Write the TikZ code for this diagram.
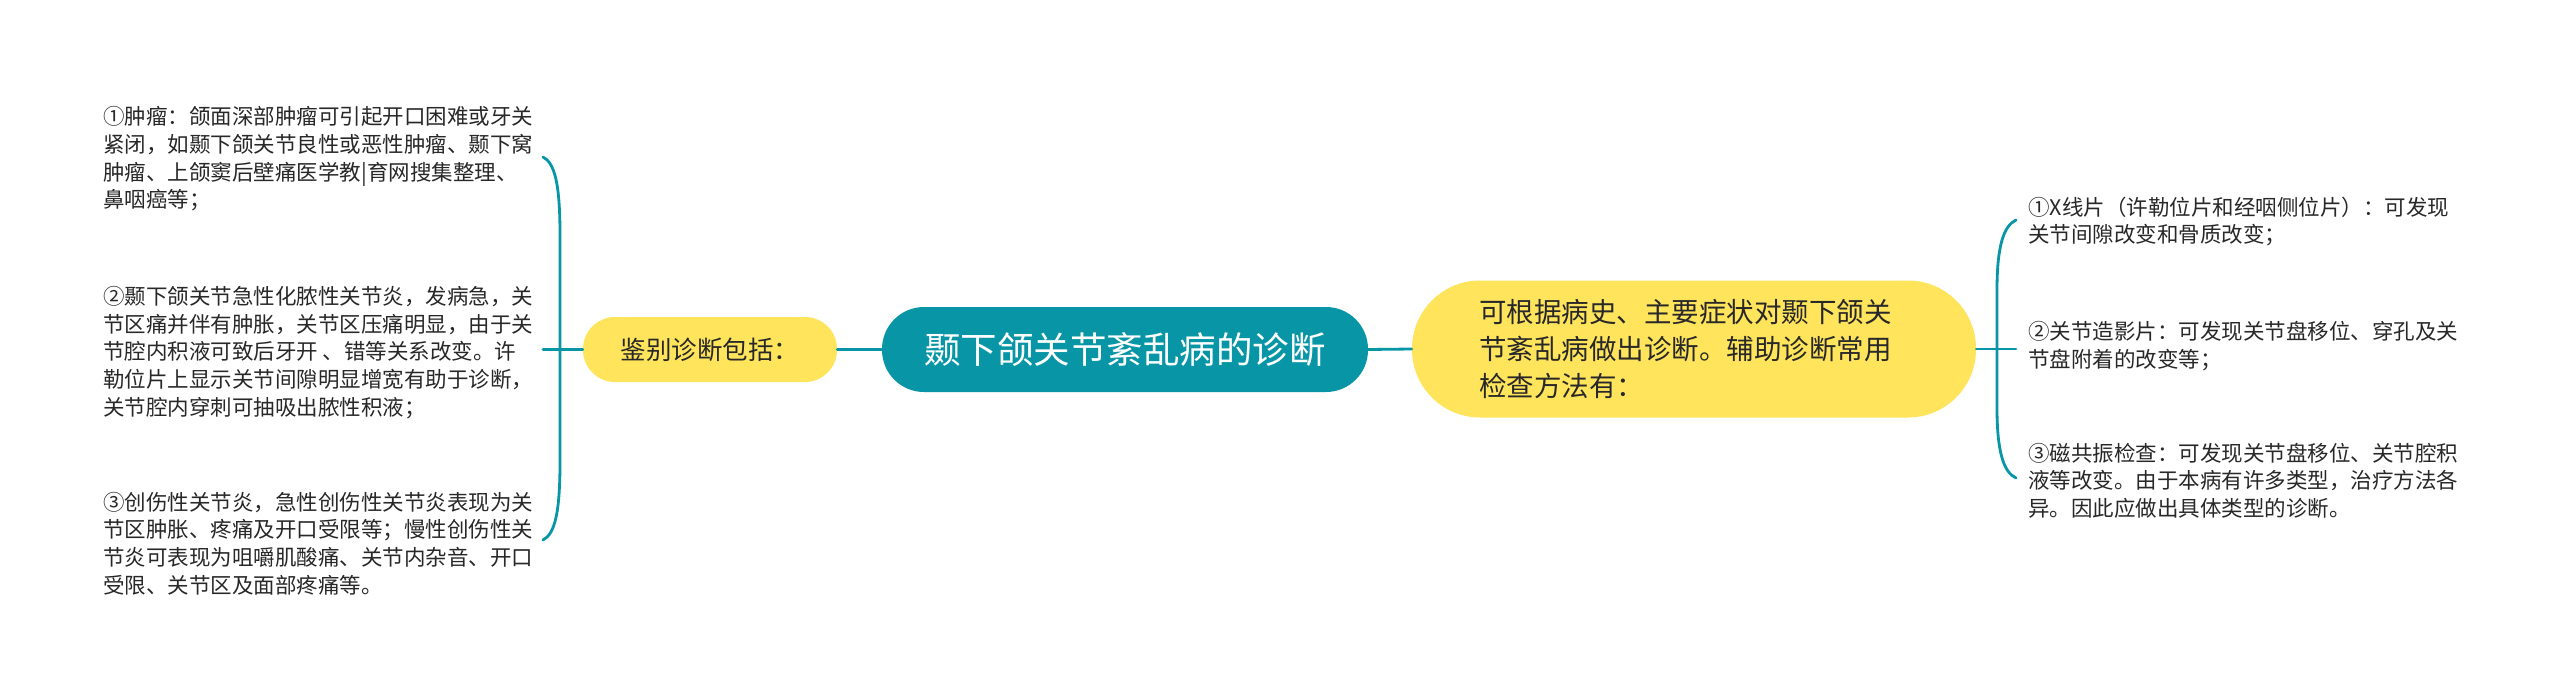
\documentclass[tikz,border=0pt]{standalone}
\usepackage{fontspec}
\setmainfont{Noto Sans CJK SC}
\usetikzlibrary{calc}
\definecolor{teal1}{RGB}{8,150,167}
\definecolor{yel}{RGB}{255,228,92}
\definecolor{txt}{RGB}{40,40,40}
\tikzset{
  conn/.style={draw=teal1, line width=2.8pt, line cap=round},
  rootbox/.style={fill=teal1, text=white, rounded corners=42pt, minimum width=486pt, minimum height=85pt, inner sep=0pt, font=\fontsize{36.5}{42}\selectfont},
  ybox/.style={fill=yel, text=txt, inner sep=0pt},
  leaf/.style={text=txt, inner sep=0pt, align=left, font=\fontsize{21.5}{27.6}\selectfont},
}
\begin{document}
\begin{tikzpicture}[x=1pt,y=-1pt]
\useasboundingbox[fill=white] (0,0) rectangle (2560,699);
% central node
\node[rootbox] (root) at (1125,349.5) {颞下颌关节紊乱病的诊断};
% left yellow
\node[ybox, rounded corners=32pt, minimum width=254pt, minimum height=65pt, font=\fontsize{25.5}{30}\selectfont] (ly) at (710,349.5) {鉴别诊断包括：};
% right yellow
\node[ybox, rounded corners=68pt, minimum width=564pt, minimum height=137pt, align=left, text width=430pt, font=\fontsize{27.5}{37}\selectfont] (ry) at (1694,349) {可根据病史、主要症状对颞下颌关\\节紊乱病做出诊断。辅助诊断常用\\检查方法有：};
% left leaves
\node[leaf, anchor=west] (l1) at (103,159) {①肿瘤：颌面深部肿瘤可引起开口困难或牙关\\紧闭，如颞下颌关节良性或恶性肿瘤、颞下窝\\肿瘤、上颌窦后壁痛医学教|育网搜集整理、\\鼻咽癌等；};
\node[leaf, anchor=west] (l2) at (103,352.5) {②颞下颌关节急性化脓性关节炎，发病急，关\\节区痛并伴有肿胀，关节区压痛明显，由于关\\节腔内积液可致后牙开 、错等关系改变。许\\勒位片上显示关节间隙明显增宽有助于诊断，\\关节腔内穿刺可抽吸出脓性积液；};
\node[leaf, anchor=west] (l3) at (103,543.5) {③创伤性关节炎，急性创伤性关节炎表现为关\\节区肿胀、疼痛及开口受限等；慢性创伤性关\\节炎可表现为咀嚼肌酸痛、关节内杂音、开口\\受限、关节区及面部疼痛等。};
% right leaves
\node[leaf, anchor=west] (r1) at (2028,221.5) {①X线片（许勒位片和经咽侧位片）：可发现\\关节间隙改变和骨质改变；};
\node[leaf, anchor=west] (r2) at (2028,346) {②关节造影片：可发现关节盘移位、穿孔及关\\节盘附着的改变等；};
\node[leaf, anchor=west] (r3) at (2028,480.5) {③磁共振检查：可发现关节盘移位、关节腔积\\液等改变。由于本病有许多类型，治疗方法各\\异。因此应做出具体类型的诊断。};
% connectors root
\draw[conn] (root.east) -- (ry.west);
\draw[conn] (root.west) -- (ly.east);
% left bracket
\coordinate (lt) at (543,157);
\coordinate (lm) at (543,349.5);
\coordinate (lb) at (543,540);
\draw[conn] (ly.west) -- (lm);
\draw[conn] (lt) .. controls (555,163) and (560,185) .. (560,235) -- (560,462) .. controls (560,512) and (555,534) .. (lb);
% right bracket
\coordinate (rt) at (2016,220);
\coordinate (rm) at (2016,349);
\coordinate (rb) at (2016,478);
\draw[conn] (ry.east) -- (rm);
\draw[conn] (rt) .. controls (2003,226) and (1997,248) .. (1997,290) -- (1997,408) .. controls (1997,450) and (2003,472) .. (rb);
\end{tikzpicture}
\end{document}
